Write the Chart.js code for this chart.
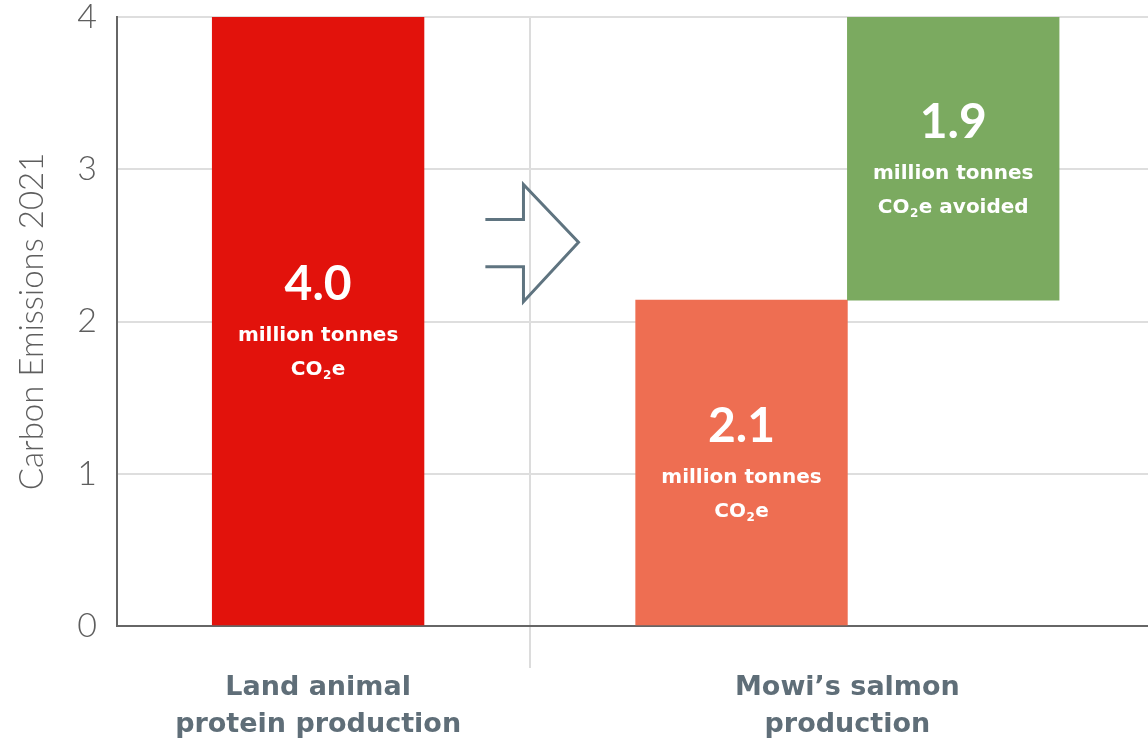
<!DOCTYPE html>
<html>
<head>
<meta charset="utf-8">
<script src="https://cdn.jsdelivr.net/npm/chart.js@4.4.1/dist/chart.umd.min.js"></script>
<style>
  html, body { margin: 0; padding: 0; background: #fff; }
  #chart { display: block; }
</style>
</head>
<body>
<canvas id="chart" width="1148" height="741"></canvas>
<script>
// categories along the bottom
const categories = [['Land animal', 'protein production'], ['Mowi\u2019s salmon', 'production']];
// which category each bar belongs to and its slot on the x axis
const barCategory = [0, 1, 1];
const barSlot = [0, 2, 3];
// floating bars, million tonnes CO2e
const barStart = [0, 0, 2.14];
const barEnd = [4.0, 2.14, 4.0];
const barValueText = ['4.0', '2.1', '1.9'];
const barUnitText = [
    ['million tonnes', 'CO\u2082e'],
    ['million tonnes', 'CO\u2082e'],
    ['million tonnes', 'CO\u2082e avoided']
];
const barColors = ['#e2120c', '#ee6e52', '#7baa60'];
const yTicks = [0, 1, 2, 3, 4];

// label position of each category = middle of its bars
const categoryCenter = categories.map((c, k) => {
    const s = barSlot.filter((v, i) => barCategory[i] === k);
    return (Math.min(...s) + Math.max(...s)) / 2;
});
// separator between the two groups
const separator = (Math.max(...barSlot.filter((v, i) => barCategory[i] === 0)) +
                   Math.min(...barSlot.filter((v, i) => barCategory[i] === 1))) / 2;

const FONT = 'Lato, "Open Sans", sans-serif';
const WIDE = '"DejaVu Sans", sans-serif';

// draws a line of text, turning the ₂ into a small subscript
function drawRich(ctx, text, x, y, size) {
    const parts = text.split('\u2082');
    const sub = Math.round(size * 0.62);
    let total = 0;
    parts.forEach((p, i) => {
        ctx.font = 'bold ' + size + 'px ' + WIDE;
        total += ctx.measureText(p).width;
        if (i < parts.length - 1) {
            ctx.font = 'bold ' + sub + 'px ' + WIDE;
            total += ctx.measureText('2').width + 1;
        }
    });
    let cx = x - total / 2;
    ctx.textAlign = 'left';
    ctx.textBaseline = 'middle';
    parts.forEach((p, i) => {
        ctx.font = 'bold ' + size + 'px ' + WIDE;
        ctx.fillText(p, cx, y);
        cx += ctx.measureText(p).width;
        if (i < parts.length - 1) {
            ctx.font = 'bold ' + sub + 'px ' + WIDE;
            ctx.fillText('2', cx + 0.5, y + size * 0.3);
            cx += ctx.measureText('2').width + 1;
        }
    });
}

const barText = {
    id: 'barText',
    afterDatasetsDraw(chart) {
        const ctx = chart.ctx;
        const meta = chart.getDatasetMeta(0);
        ctx.save();
        ctx.fillStyle = '#ffffff';
        meta.data.forEach((el, i) => {
            const top = Math.min(el.y, el.base);
            const bottom = Math.max(el.y, el.base);
            const cy = (top + bottom) / 2;
            ctx.font = 'bold 48px ' + FONT;
            ctx.textAlign = 'center';
            ctx.textBaseline = 'middle';
            ctx.fillText(barValueText[i], el.x, cy - 36);
            barUnitText[i].forEach((line, j) => {
                drawRich(ctx, line, el.x, cy + 15 + j * 34, 20);
            });
        });
        ctx.restore();
    }
};

// open arrow sitting on the separator
const arrow = {
    id: 'arrow',
    afterDatasetsDraw(chart) {
        const x = chart.scales.x, y = chart.scales.y, ctx = chart.ctx;
        const X = v => x.getPixelForValue(separator + v);
        const Y = v => y.getPixelForValue(v);
        ctx.save();
        ctx.strokeStyle = '#5f7480';
        ctx.lineWidth = 3;
        ctx.lineJoin = 'miter';
        ctx.beginPath();
        ctx.moveTo(X(-0.21), Y(2.67));
        ctx.lineTo(X(-0.03), Y(2.67));
        ctx.lineTo(X(-0.03), Y(2.90));
        ctx.lineTo(X(0.23), Y(2.52));
        ctx.lineTo(X(-0.03), Y(2.13));
        ctx.lineTo(X(-0.03), Y(2.36));
        ctx.lineTo(X(-0.21), Y(2.36));
        ctx.stroke();
        ctx.restore();
    }
};

const ctx = document.getElementById('chart').getContext('2d');
const chart = new Chart(ctx, {
    type: 'bar',
    data: {
        datasets: [{
            data: barSlot.map((s, i) => ({ x: s, y: [barStart[i], barEnd[i]] })),
            backgroundColor: barColors,
            borderWidth: 0,
            barPercentage: 1,
            categoryPercentage: 1
        }]
    },
    options: {
        responsive: false,
        animation: false,
        devicePixelRatio: 1,
        layout: { padding: 0 },
        plugins: {
            legend: { display: false },
            tooltip: { enabled: false }
        },
        scales: {
            x: {
                type: 'linear',
                min: -0.95,
                max: 3.92,
                offset: false,
                afterBuildTicks: s => {
                    s.ticks = [{ value: categoryCenter[0] }, { value: separator }, { value: categoryCenter[1] }];
                },
                afterFit: s => { s.height = 115; },
                grid: {
                    offset: false,
                    color: c => (c.tick && c.tick.value === separator) ? '#dcdcdc' : 'rgba(0,0,0,0)',
                    lineWidth: 2,
                    tickLength: 42
                },
                border: { display: true, color: '#666666', width: 2 },
                ticks: {
                    autoSkip: false,
                    maxRotation: 0,
                    padding: 2,
                    color: '#5f6e78',
                    font: { family: WIDE, size: 27, weight: 'bold', lineHeight: 1.35 },
                    callback: v => {
                        const k = categoryCenter.indexOf(v);
                        return k >= 0 ? categories[k] : '';
                    }
                }
            },
            y: {
                min: 0,
                max: 4,
                afterBuildTicks: s => { s.ticks = yTicks.map(v => ({ value: v })); },
                afterFit: s => { s.width = 117; },
                grid: { color: '#dedede', lineWidth: 2, drawTicks: true, tickLength: 20, tickColor: 'rgba(0,0,0,0)' },
                border: { display: true, color: '#666666', width: 2 },
                ticks: {
                    padding: 0,
                    color: '#5e5e5e',
                    font: { family: FONT, size: 34, weight: '300', lineHeight: 1 }
                },
                title: {
                    display: true,
                    text: 'Carbon Emissions 2021',
                    color: '#5e5e5e',
                    font: { family: FONT, size: 33, weight: '300' },
                    padding: { top: 13, bottom: 0 }
                }
            }
        }
    },
    plugins: [barText, arrow]
});
</script>
</body>
</html>
